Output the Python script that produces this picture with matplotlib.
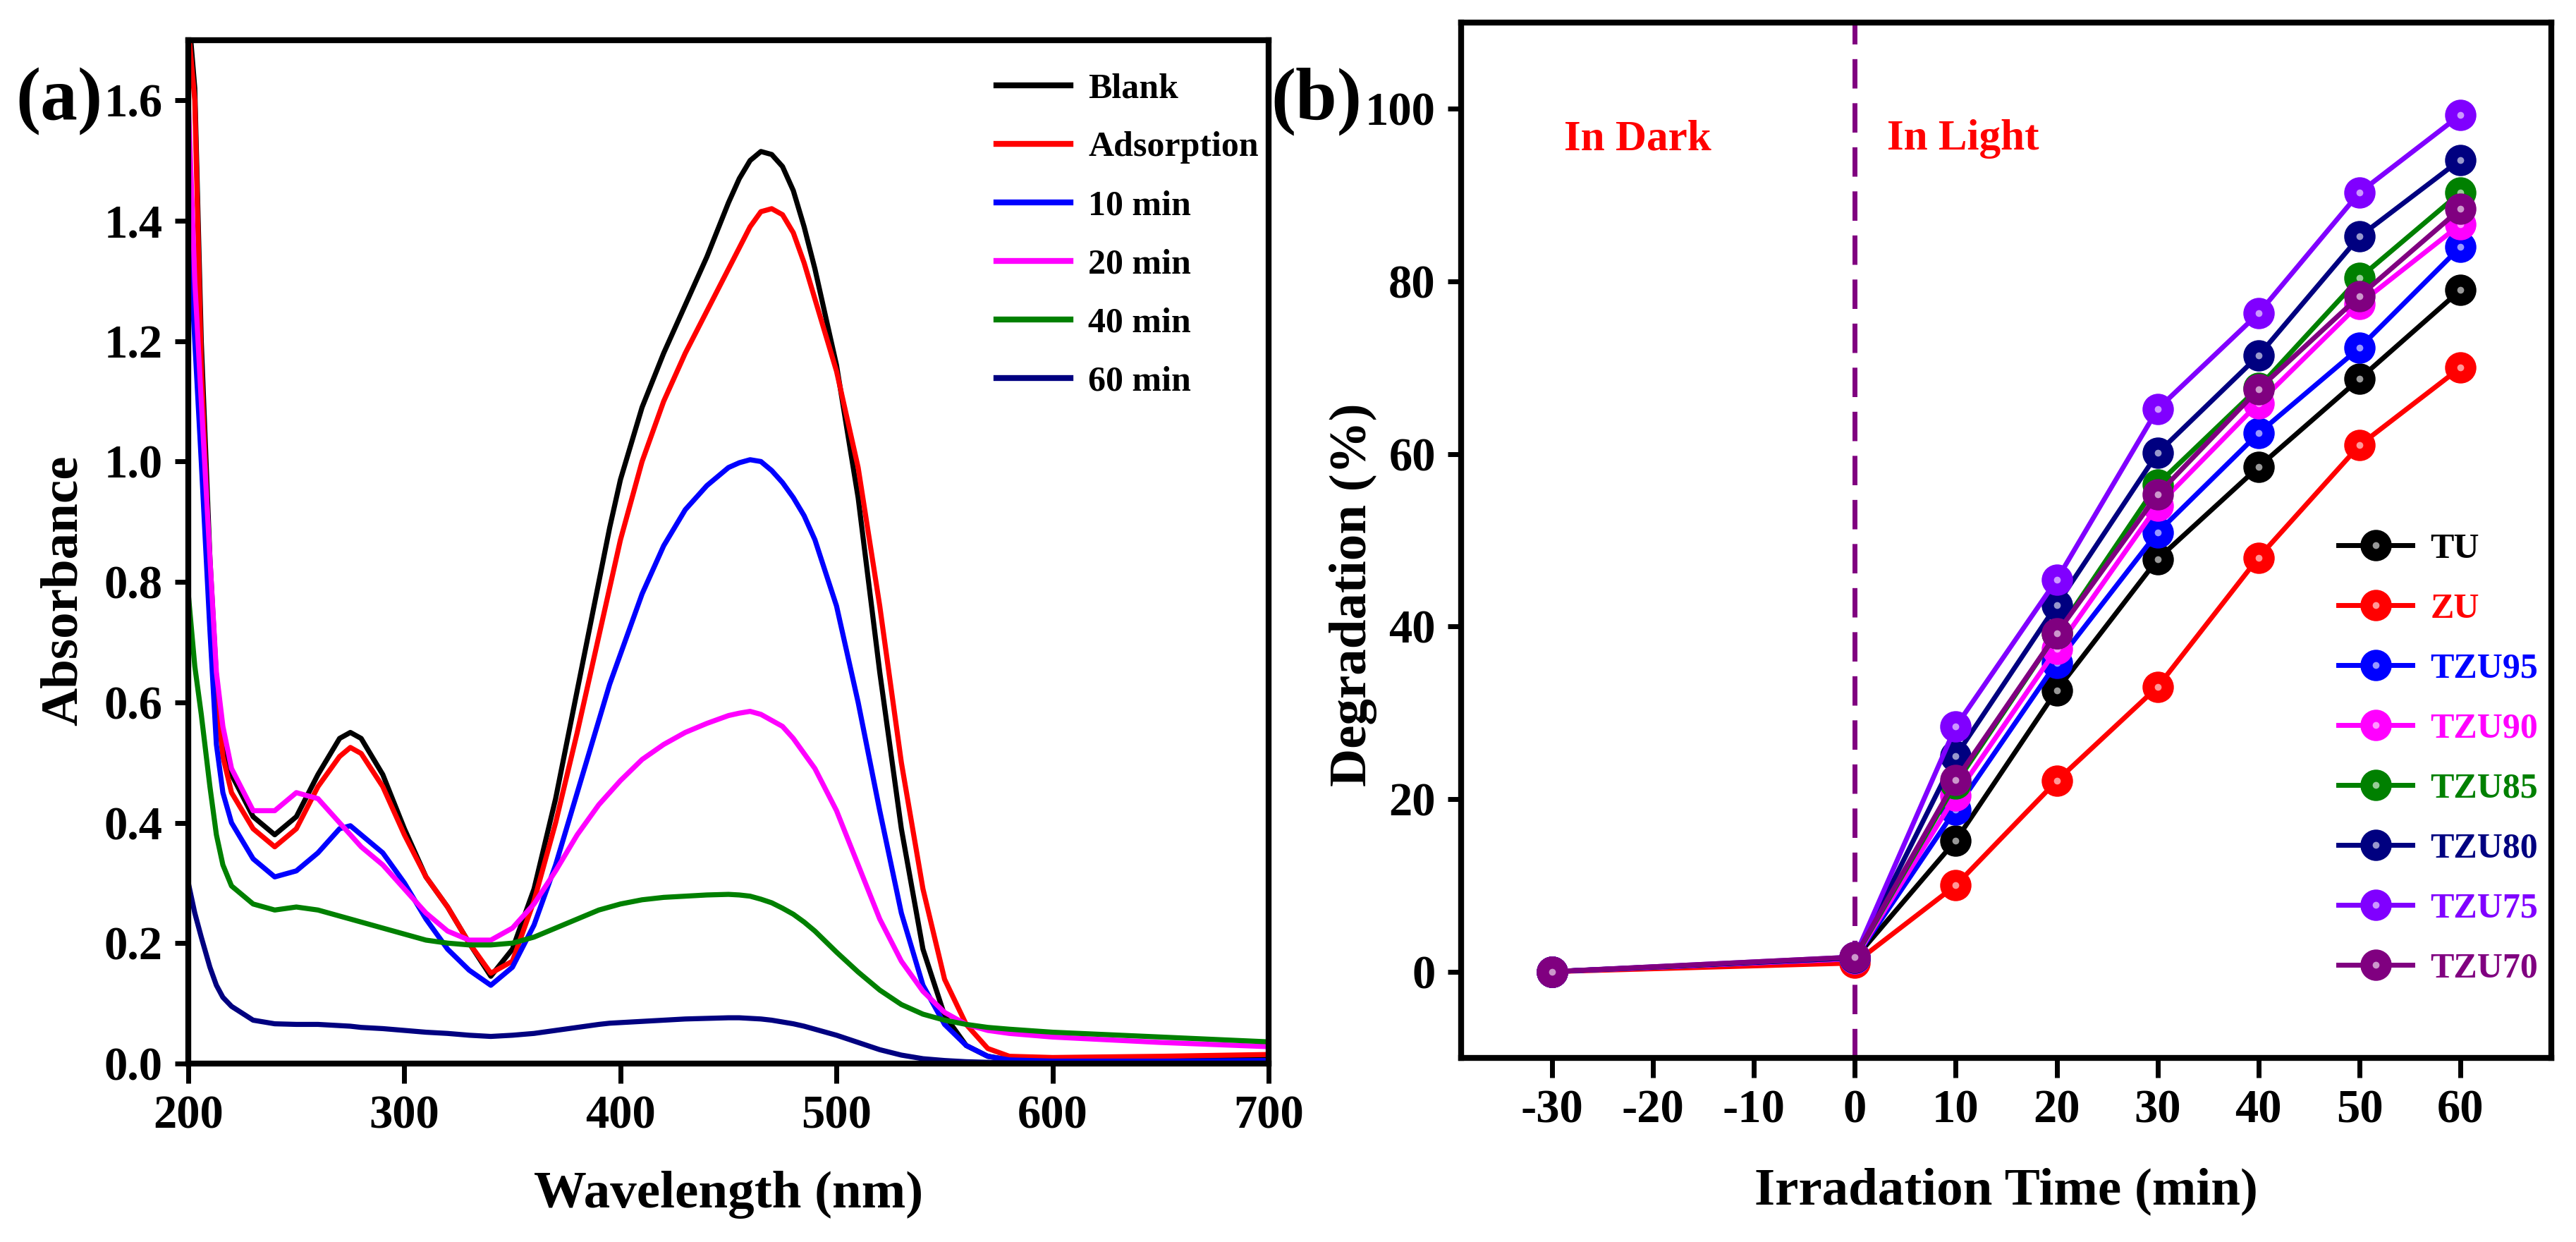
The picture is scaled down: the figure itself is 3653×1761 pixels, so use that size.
import matplotlib
matplotlib.use("Agg")
import matplotlib.pyplot as plt

plt.rcParams['font.family'] = ['Liberation Serif', 'DejaVu Serif']
plt.rcParams['font.weight'] = 'bold'
plt.rcParams['axes.labelweight'] = 'bold'

# ---- panel (a): UV-vis spectra ----
wavelength = [200, 203, 206, 210, 213, 216, 220, 230, 240, 250, 260, 270, 275, 280, 290,
              300, 310, 320, 330, 340, 350, 360, 370, 380, 390, 395, 400, 410, 420, 430, 440,
              450, 455, 460, 465, 470, 475, 480, 485, 490, 500, 510, 520, 530, 540, 550, 560,
              570, 580, 600, 650, 700]
blank = [1.75, 1.62, 1.20, 0.84, 0.64, 0.54, 0.48, 0.41, 0.38, 0.41, 0.48, 0.54, 0.55, 0.54, 0.48,
         0.39, 0.31, 0.26, 0.20, 0.145, 0.19, 0.29, 0.44, 0.62, 0.80, 0.89, 0.97, 1.09, 1.18, 1.26, 1.34,
         1.43, 1.47, 1.50, 1.515, 1.51, 1.49, 1.45, 1.39, 1.32, 1.16, 0.94, 0.65, 0.39, 0.19, 0.08, 0.03,
         0.012, 0.006, 0.005, 0.006, 0.008]
adsorption = [1.72, 1.60, 1.16, 0.81, 0.61, 0.51, 0.45, 0.39, 0.36, 0.39, 0.46, 0.51, 0.525, 0.515, 0.46,
              0.38, 0.31, 0.26, 0.20, 0.15, 0.17, 0.27, 0.40, 0.55, 0.71, 0.79, 0.87, 1.00, 1.10, 1.18, 1.25,
              1.32, 1.355, 1.39, 1.415, 1.42, 1.41, 1.38, 1.33, 1.27, 1.15, 0.99, 0.76, 0.50, 0.29, 0.14, 0.065,
              0.025, 0.012, 0.010, 0.012, 0.015]
min10 = [1.40, 1.20, 1.00, 0.72, 0.53, 0.45, 0.40, 0.34, 0.31, 0.32, 0.35, 0.39, 0.395, 0.38, 0.35,
         0.30, 0.24, 0.19, 0.155, 0.13, 0.16, 0.23, 0.33, 0.45, 0.57, 0.63, 0.68, 0.78, 0.86, 0.92, 0.96,
         0.99, 0.998, 1.003, 1.0, 0.985, 0.965, 0.94, 0.91, 0.87, 0.76, 0.60, 0.42, 0.25, 0.13, 0.065, 0.03,
         0.012, 0.006, 0.004, 0.004, 0.005]
min20 = [1.60, 1.30, 1.10, 0.84, 0.65, 0.56, 0.49, 0.42, 0.42, 0.45, 0.44, 0.40, 0.38, 0.36, 0.33,
         0.29, 0.25, 0.22, 0.205, 0.205, 0.225, 0.265, 0.32, 0.38, 0.43, 0.45, 0.47, 0.505, 0.53, 0.55, 0.565,
         0.578, 0.582, 0.585, 0.58, 0.57, 0.56, 0.54, 0.515, 0.49, 0.42, 0.33, 0.24, 0.17, 0.12, 0.085, 0.065,
         0.055, 0.05, 0.044, 0.035, 0.028]
min40 = [0.78, 0.66, 0.58, 0.46, 0.38, 0.33, 0.295, 0.265, 0.255, 0.26, 0.255, 0.245, 0.24, 0.235, 0.225,
         0.215, 0.205, 0.20, 0.197, 0.197, 0.20, 0.21, 0.225, 0.24, 0.255, 0.26, 0.265, 0.272, 0.276, 0.278, 0.28,
         0.281, 0.28, 0.278, 0.273, 0.267, 0.258, 0.248, 0.235, 0.22, 0.185, 0.152, 0.122, 0.098, 0.082, 0.072, 0.065,
         0.06, 0.057, 0.052, 0.044, 0.036]
min60 = [0.30, 0.25, 0.21, 0.16, 0.13, 0.11, 0.095, 0.072, 0.066, 0.065, 0.065, 0.063, 0.062, 0.06, 0.058,
         0.055, 0.052, 0.05, 0.047, 0.045, 0.047, 0.05, 0.055, 0.06, 0.065, 0.067, 0.068, 0.07, 0.072, 0.074, 0.075,
         0.076, 0.076, 0.075, 0.074, 0.072, 0.069, 0.066, 0.062, 0.057, 0.047, 0.035, 0.023, 0.014, 0.008, 0.005, 0.003,
         0.002, 0.001, 0.0, 0.0, 0.0]
spectra_labels = ['Blank', 'Adsorption', '10 min', '20 min', '40 min', '60 min']
spectra_colors = ['black', 'red', 'blue', 'magenta', 'green', 'navy']

# ---- panel (b): degradation ----
times = [-30, 0, 10, 20, 30, 40, 50, 60]
TU = [0, 1.5, 15.2, 32.6, 47.8, 58.5, 68.7, 79.0]
ZU = [0, 1.0, 10.0, 22.1, 33.0, 48.0, 61.0, 70.0]
TZU95 = [0, 1.5, 18.8, 35.8, 50.9, 62.4, 72.3, 84.0]
TZU90 = [0, 1.5, 20.4, 37.4, 54.0, 65.9, 77.4, 86.6]
TZU85 = [0, 1.6, 21.8, 39.2, 56.5, 67.7, 80.4, 90.3]
TZU80 = [0, 1.6, 25.0, 42.5, 60.1, 71.4, 85.2, 94.1]
TZU75 = [0, 1.7, 28.4, 45.4, 65.2, 76.3, 90.3, 99.3]
TZU70 = [0, 1.7, 22.2, 39.2, 55.3, 67.5, 78.3, 88.4]
sample_labels = ['TU', 'ZU', 'TZU95', 'TZU90', 'TZU85', 'TZU80', 'TZU75', 'TZU70']
sample_colors = ['black', 'red', 'blue', 'magenta', 'green', 'navy', '#8000FF', 'purple']
time_ticks = [-30, -20, -10, 0, 10, 20, 30, 40, 50, 60]
time_ticklabels = ['-30', '-20', '-10', '0', '10', '20', '30', '40', '50', '60']

fig = plt.figure(figsize=(3653 / 200, 1761 / 200), dpi=200)
ax1 = fig.add_axes([0.0731, 0.1437, 0.4194, 0.8240])
ax2 = fig.add_axes([0.5672, 0.1482, 0.4232, 0.8336])

for ax in (ax1, ax2):
    for sp in ax.spines.values():
        sp.set_linewidth(3)
    ax.tick_params(direction='out', width=2.5, labelsize=24)
    ax.tick_params(axis='x', length=10, pad=6)
    ax.tick_params(axis='y', length=7, pad=6)

# panel (a)
series = [blank, adsorption, min10, min20, min40, min60]
for ys, lab, col in zip(series, spectra_labels, spectra_colors):
    ax1.plot(wavelength, ys, color=col, lw=2.6, label=lab, solid_joinstyle='round')
ax1.set_xlim(200, 700)
ax1.set_ylim(0, 1.7)
ax1.set_xticks([200, 300, 400, 500, 600, 700])
ax1.set_yticks([0.0, 0.2, 0.4, 0.6, 0.8, 1.0, 1.2, 1.4, 1.6])
ax1.set_yticklabels(['0.0', '0.2', '0.4', '0.6', '0.8', '1.0', '1.2', '1.4', '1.6'])
ax1.set_xlabel('Wavelength (nm)', fontsize=27)
ax1.set_ylabel('Absorbance', fontsize=27)
ax1.xaxis.set_label_coords(0.5, -0.105)
ax1.yaxis.set_label_coords(-0.093, 0.462)
leg1 = ax1.legend(loc='upper left', bbox_to_anchor=(0.748, 0.968), frameon=False,
                  fontsize=18, handlelength=2.1, handletextpad=0.5, labelspacing=0.74,
                  borderpad=0, borderaxespad=0)
for ln in leg1.get_lines():
    ln.set_linewidth(3)
fig.text(0.023, 0.918, '(a)', fontsize=38, fontweight='bold', ha='center', va='center')

# panel (b)
ax2.axvline(0, color='purple', lw=2.5, ls=(0, (6, 3)), zorder=1)
handles = []
for ys, lab, col in zip([TU, ZU, TZU95, TZU90, TZU85, TZU80, TZU75, TZU70],
                        sample_labels, sample_colors):
    ln, = ax2.plot(times, ys, color=col, lw=2.5, marker='o', markersize=15,
                   markerfacecolor=col, markeredgecolor=col, label=lab, zorder=3)
    hl, = ax2.plot(times, ys, ls='none', marker='o', markersize=3.5,
                   markerfacecolor='white', markeredgecolor='none', alpha=0.6, zorder=3)
    handles.append((ln, hl))
ax2.set_xlim(-39, 69)
ax2.set_ylim(-10, 110)
ax2.set_xticks(time_ticks)
ax2.set_xticklabels(time_ticklabels)
ax2.set_yticks([0, 20, 40, 60, 80, 100])
ax2.set_xlabel('Irradation Time (min)', fontsize=27)
ax2.set_ylabel('Degradation (%)', fontsize=27)
ax2.xaxis.set_label_coords(0.5, -0.106)
ax2.yaxis.set_label_coords(-0.077, 0.4475)
leg2 = ax2.legend(handles, sample_labels, loc='upper left', bbox_to_anchor=(0.805, 0.507),
                  frameon=False, fontsize=18, handlelength=2.1, handletextpad=0.5,
                  labelspacing=0.78, borderpad=0, borderaxespad=0)
for txt, col in zip(leg2.get_texts(), sample_colors):
    txt.set_color(col)
ax2.text(-21.5, 96.5, 'In Dark', color='red', fontsize=22, fontweight='bold',
         ha='center', va='center')
ax2.text(10.7, 96.5, 'In Light', color='red', fontsize=22, fontweight='bold',
         ha='center', va='center')
fig.text(0.511, 0.918, '(b)', fontsize=38, fontweight='bold', ha='center', va='center')

fig.savefig('out.png', dpi=200, facecolor='white')
